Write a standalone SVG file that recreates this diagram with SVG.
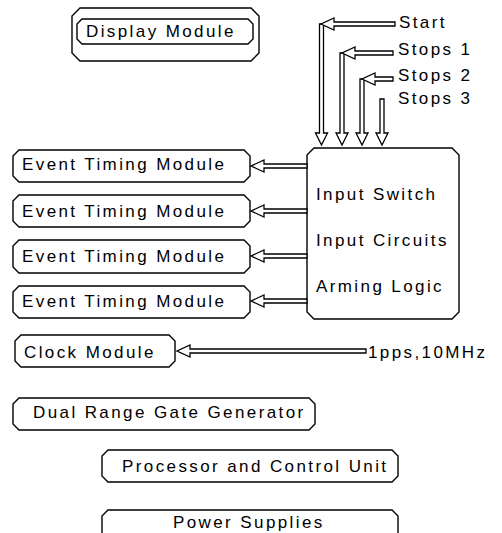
<svg xmlns="http://www.w3.org/2000/svg" width="502" height="533" viewBox="0 0 502 533">
<style>
.box{fill:#fff;stroke:#000;stroke-width:1.4}
.arr{fill:#fff;stroke:#000;stroke-width:1.3;stroke-linejoin:miter}
text{font-family:"Liberation Sans",Arial,sans-serif;font-size:17px;letter-spacing:2.4px;fill:#000}
</style>
<rect width="502" height="533" fill="#fff"/>
<g id="display">
<path class="box" d="M80,8 H251 L259,16 V53 L251,61 H80 L72,53 V16 Z"/>
<path class="box" d="M82,19 H248 L253,24 V39 L248,44 H82 L77,39 V24 Z"/>
<text x="86" y="37">Display Module</text>
</g>
<g id="etm1">
<path class="box" d="M19,150 H244 L250,156 V176 L244,182 H19 L13,176 V156 Z"/>
<text x="22" y="170">Event Timing Module</text>
</g>
<g id="etm2">
<path class="box" d="M19,195 H244 L250,201 V221 L244,227 H19 L13,221 V201 Z"/>
<text x="22" y="217">Event Timing Module</text>
</g>
<g id="etm3">
<path class="box" d="M19,240 H244 L250,246 V267 L244,273 H19 L13,267 V246 Z"/>
<text x="22" y="262">Event Timing Module</text>
</g>
<g id="etm4">
<path class="box" d="M19,286 H244 L250,292 V312 L244,318 H19 L13,312 V292 Z"/>
<text x="22" y="307">Event Timing Module</text>
</g>
<g id="input">
<path class="box" d="M314,148 H452 L459,155 V312 L452,319 H314 L307,312 V155 Z"/>
<text x="316" y="200">Input Switch</text>
<text x="316" y="246">Input Circuits</text>
<text x="316" y="292">Arming Logic</text>
</g>
<g id="clock">
<path class="box" d="M21,335 H169 L175,341 V361 L169,367 H21 L15,361 V341 Z"/>
<text x="24" y="358">Clock Module</text>
</g>
<g id="drgg">
<path class="box" d="M19,398 H309 L315,404 V424 L309,430 H19 L13,424 V404 Z"/>
<text x="33" y="418">Dual Range Gate Generator</text>
</g>
<g id="pcu">
<path class="box" d="M108,450 H392 L398,456 V476 L392,482 H108 L102,476 V456 Z"/>
<text x="122" y="472">Processor and Control Unit</text>
</g>
<g id="ps">
<path class="box" d="M108,510 H392 L398,516 V540 L392,546 H108 L102,540 V516 Z"/>
<text x="173" y="528">Power Supplies</text>
</g>
<g id="labels">
<text x="399" y="28">Start</text>
<text x="398" y="55">Stops 1</text>
<text x="398" y="81">Stops 2</text>
<text x="398" y="104">Stops 3</text>
<text x="368" y="358">1pps,10MHz</text>
</g>
<g id="connectors">
<!-- vertical input arrows -->
<polygon class="arr" points="319.5,24 323.5,24 323.5,133 327.5,133 321.5,145 315.5,133 319.5,133"/>
<polygon class="arr" points="340,53 344,53 344,133 348,133 342,145 336,133 340,133"/>
<polygon class="arr" points="360,79 364,79 364,133 368,133 362,145 356,133 360,133"/>
<polygon class="arr" points="380,99 384,99 384,133 388,133 382,145 376,133 380,133"/>
<!-- horizontal input arrows -->
<polygon class="arr" points="395,22 334,22 334,18 321,24 334,30 334,26 395,26"/>
<polygon class="arr" points="393,51 355,51 355,47 342,53 355,59 355,55 393,55"/>
<polygon class="arr" points="393,77 375,77 375,73 362,79 375,85 375,81 393,81"/>
<!-- outputs to event timing modules -->
<polygon class="arr" points="307,164 264,164 264,160 251,166 264,172 264,168 307,168"/>
<polygon class="arr" points="307,209 264,209 264,205 251,211 264,217 264,213 307,213"/>
<polygon class="arr" points="307,254 264,254 264,250 251,256 264,262 264,258 307,258"/>
<polygon class="arr" points="307,299 264,299 264,295 251,301 264,307 264,303 307,303"/>
<!-- clock input -->
<polygon class="arr" points="366,349 190,349 190,345 177,351 190,357 190,353 366,353"/>
</g>
</svg>
